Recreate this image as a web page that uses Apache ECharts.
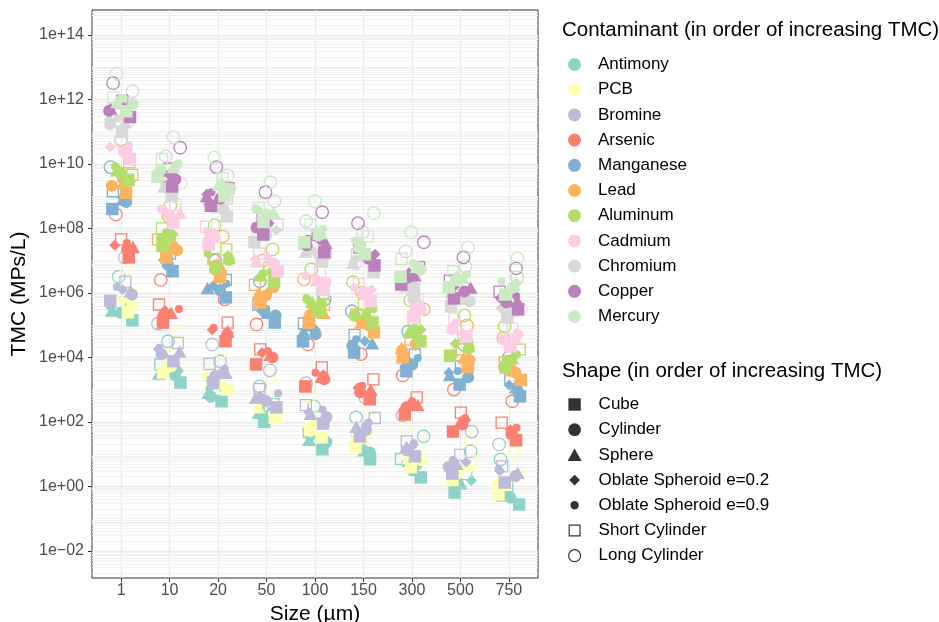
<!DOCTYPE html>
<html>
<head>
<meta charset="utf-8">
<script src="https://cdn.jsdelivr.net/npm/echarts@6/dist/echarts.min.js"></script>
<style>
html, body { margin: 0; padding: 0; background: #fff; }
#chart { width: 939px; height: 622px; }
</style>
</head>
<body>
<div id="chart"></div>
<script>
// particle sizes (µm), one column per size
const sizes = ['1', '10', '20', '50', '100', '150', '300', '500', '750'];
const contaminants = ['Antimony', 'PCB', 'Bromine', 'Arsenic', 'Manganese', 'Lead',
    'Aluminum', 'Cadmium', 'Chromium', 'Copper', 'Mercury'];
const shapes = ['Cube', 'Cylinder', 'Sphere', 'Oblate Spheroid e=0.2',
    'Oblate Spheroid e=0.9', 'Short Cylinder', 'Long Cylinder'];
const yTicks = [-2, 0, 2, 4, 6, 8, 10, 12, 14];

// log10(TMC), rows = sizes, columns = shapes (same order as above)
const antimony = [
    [5.15, 5.38, 5.45, 5.52, 5.58, 5.70, 6.50],
    [3.22, 3.45, 3.50, 3.58, 3.62, 3.78, 4.50],
    [2.64, 2.78, 2.90, 2.98, 3.05, 3.20, 3.88],
    [2.00, 2.20, 2.28, 2.35, 2.40, 2.55, 3.10],
    [1.15, 1.38, 1.45, 1.50, 1.58, 1.70, 2.48],
    [0.84, 1.05, 1.12, 1.20, 1.25, 1.40, 2.14],
    [0.28, 0.50, 0.59, 0.65, 0.70, 0.85, 1.55],
    [-0.19, 0.02, 0.10, 0.18, 0.22, 0.38, 1.09],
    [-0.56, -0.35, -0.28, -0.20, -0.15, 0.00, 0.84]
];
const pcb = [
    [5.40, 5.62, 5.70, 5.78, 5.82, 5.98, 6.80],
    [3.53, 3.72, 3.82, 3.88, 3.95, 4.10, 4.77],
    [3.00, 3.20, 3.30, 3.36, 3.42, 3.58, 4.19],
    [2.14, 2.35, 2.45, 2.50, 2.58, 2.72, 3.38],
    [1.52, 1.72, 1.82, 1.88, 1.94, 2.10, 2.79],
    [1.21, 1.42, 1.50, 1.58, 1.63, 1.78, 2.42],
    [0.59, 0.80, 0.88, 0.95, 1.00, 1.15, 1.83],
    [0.20, 0.40, 0.50, 0.56, 0.62, 0.78, 1.40],
    [-0.25, -0.05, 0.05, 0.10, 0.16, 0.32, 1.05]
];
const bromine = [
    [5.75, 5.95, 6.05, 6.10, 6.18, 6.35, 7.10],
    [3.88, 4.10, 4.18, 4.25, 4.30, 4.45, 5.05],
    [3.22, 3.42, 3.52, 3.58, 3.64, 3.80, 4.40],
    [2.45, 2.65, 2.75, 2.80, 2.88, 3.02, 3.60],
    [1.95, 2.15, 2.25, 2.30, 2.38, 2.52, 3.20],
    [1.55, 1.75, 1.85, 1.92, 1.98, 2.12, 2.76],
    [0.93, 1.12, 1.22, 1.28, 1.34, 1.40, 2.20],
    [0.40, 0.60, 0.70, 0.76, 0.82, 0.98, 1.70],
    [0.12, 0.32, 0.42, 0.48, 0.54, 0.62, 1.30]
];
const arsenic = [
    [7.10, 7.35, 7.42, 7.48, 7.55, 7.66, 8.43],
    [5.08, 5.30, 5.38, 5.45, 5.50, 5.64, 6.40],
    [4.50, 4.72, 4.80, 4.86, 4.92, 5.08, 5.80],
    [3.78, 4.00, 4.08, 4.14, 4.20, 4.25, 5.02],
    [3.10, 3.32, 3.40, 3.46, 3.52, 3.69, 4.40],
    [2.70, 2.92, 3.00, 3.06, 3.12, 3.32, 4.10],
    [2.23, 2.45, 2.52, 2.58, 2.64, 2.76, 3.44],
    [1.70, 1.92, 2.00, 2.06, 2.12, 2.29, 3.00],
    [1.43, 1.62, 1.70, 1.76, 1.82, 1.98, 2.64]
];
const manganese = [
    [8.60, 8.82, 8.90, 8.96, 9.02, 9.15, 9.90],
    [6.67, 6.88, 6.95, 7.02, 7.08, 7.22, 7.75],
    [5.86, 6.08, 6.15, 6.22, 6.28, 6.40, 7.00],
    [5.08, 5.30, 5.38, 5.44, 5.50, 5.64, 6.36],
    [4.50, 4.72, 4.80, 4.86, 4.92, 5.05, 5.80],
    [4.15, 4.36, 4.44, 4.50, 4.56, 4.70, 5.43],
    [3.57, 3.78, 3.86, 3.92, 3.98, 4.09, 4.80],
    [3.16, 3.38, 3.45, 3.52, 3.58, 3.72, 4.40],
    [2.79, 3.00, 3.08, 3.14, 3.20, 3.35, 4.00]
];
const lead = [
    [9.10, 9.32, 9.40, 9.46, 9.52, 9.66, 10.40],
    [7.10, 7.32, 7.40, 7.46, 7.52, 7.65, 8.37],
    [6.50, 6.72, 6.80, 6.86, 6.92, 7.05, 7.75],
    [5.70, 5.92, 6.00, 6.06, 6.12, 6.25, 7.00],
    [5.08, 5.30, 5.38, 5.44, 5.50, 5.63, 6.42],
    [4.78, 5.00, 5.08, 5.14, 5.20, 5.33, 6.00],
    [4.00, 4.22, 4.30, 4.36, 4.42, 4.55, 5.49],
    [3.70, 3.92, 4.00, 4.06, 4.12, 4.25, 4.99],
    [3.30, 3.52, 3.60, 3.66, 3.72, 3.85, 4.60]
];
const aluminum = [
    [9.50, 9.72, 9.80, 9.86, 9.92, 10.05, 10.75],
    [7.45, 7.68, 7.75, 7.82, 7.88, 8.00, 8.70],
    [6.80, 7.02, 7.10, 7.16, 7.22, 7.35, 8.10],
    [6.33, 6.48, 6.55, 6.60, 6.65, 6.78, 7.35],
    [5.43, 5.65, 5.72, 5.78, 5.84, 5.98, 6.73],
    [5.08, 5.30, 5.38, 5.44, 5.50, 5.63, 6.33],
    [4.50, 4.72, 4.80, 4.86, 4.92, 5.05, 5.77],
    [4.05, 4.28, 4.35, 4.42, 4.48, 4.60, 5.30],
    [3.69, 3.90, 3.98, 4.04, 4.10, 4.24, 4.96]
];
const cadmium = [
    [10.15, 10.38, 10.45, 10.52, 10.58, 10.70, 11.30],
    [8.18, 8.40, 8.48, 8.54, 8.60, 8.73, 9.40],
    [7.50, 7.72, 7.80, 7.86, 7.92, 8.05, 8.80],
    [6.67, 6.90, 6.98, 7.04, 7.10, 7.22, 7.90],
    [6.10, 6.32, 6.40, 6.46, 6.52, 6.65, 7.20],
    [5.74, 5.96, 6.04, 6.10, 6.16, 6.29, 6.90],
    [5.24, 5.45, 5.53, 5.60, 5.66, 5.79, 6.40],
    [4.65, 4.88, 4.95, 5.02, 5.08, 5.20, 5.90],
    [4.34, 4.55, 4.63, 4.70, 4.76, 4.89, 5.50]
];
const chromium = [
    [11.00, 11.22, 11.30, 11.36, 11.42, 11.55, 12.25],
    [9.00, 9.22, 9.30, 9.36, 9.42, 9.55, 10.23],
    [8.37, 8.58, 8.66, 8.72, 8.78, 8.92, 9.64],
    [7.57, 7.80, 8.03, 7.94, 8.00, 8.12, 8.84],
    [6.98, 7.20, 7.28, 7.34, 7.40, 7.53, 8.22],
    [6.64, 6.86, 6.94, 7.00, 7.06, 7.19, 7.88],
    [5.90, 6.12, 6.20, 6.26, 6.32, 6.45, 7.29],
    [5.58, 5.74, 5.82, 5.88, 5.94, 6.08, 6.82],
    [5.24, 5.33, 5.45, 5.52, 5.58, 5.72, 6.48]
];
const copper = [
    [11.45, 11.65, 11.72, 11.78, 11.84, 11.96, 12.50],
    [9.30, 9.52, 9.60, 9.66, 9.72, 9.85, 10.50],
    [8.70, 8.92, 9.00, 9.06, 9.12, 9.25, 9.90],
    [7.81, 8.03, 8.10, 8.16, 8.22, 8.35, 9.12],
    [7.26, 7.48, 7.55, 7.62, 7.68, 7.80, 8.50],
    [6.85, 7.06, 7.14, 7.20, 7.26, 7.40, 8.16],
    [6.26, 6.48, 6.55, 6.62, 6.68, 6.80, 7.57],
    [5.83, 6.04, 6.17, 6.18, 6.24, 6.38, 7.10],
    [5.49, 5.70, 5.74, 5.84, 5.90, 6.04, 6.76]
];
const mercury = [
    [11.63, 11.85, 11.92, 11.98, 12.04, 12.06, 12.80],
    [9.60, 9.82, 9.90, 9.96, 10.02, 10.15, 10.82],
    [9.00, 9.22, 9.36, 9.36, 9.42, 9.55, 10.20],
    [8.20, 8.42, 8.50, 8.56, 8.62, 8.65, 9.43],
    [7.57, 7.78, 7.86, 7.92, 7.98, 8.12, 8.84],
    [7.20, 7.42, 7.50, 7.56, 7.62, 7.75, 8.47],
    [6.50, 6.72, 6.80, 6.86, 6.92, 7.05, 7.88],
    [6.17, 6.38, 6.46, 6.52, 6.58, 6.67, 7.41],
    [5.95, 6.16, 6.24, 6.30, 6.36, 6.50, 7.07]
];
const tmc = [antimony, pcb, bromine, arsenic, manganese, lead,
    aluminum, cadmium, chromium, copper, mercury];

// Set3 palette
const colors = ['#8DD3C7', '#FFFFB3', '#BEBADA', '#FB8072', '#80B1D3', '#FDB462',
    '#B3DE69', '#FCCDE5', '#D9D9D9', '#BC80BD', '#CCEBC5'];

// marker look for each shape
const markers = [
    { symbol: 'rect', size: 12.5, open: false },
    { symbol: 'circle', size: 12, open: false },
    { symbol: 'triangle', size: [14, 12.5], open: false },
    { symbol: 'diamond', size: 11, open: false },
    { symbol: 'circle', size: 8, open: false },
    { symbol: 'rect', size: 11, open: true },
    { symbol: 'circle', size: 12.5, open: true }
];

// legend icons drawn in a fixed 14x14 box so the sizes differ like in the original
const box = 'path://M0,0M14,14';
const legendIcons = [
    box + 'M0.8,0.8L13.2,0.8L13.2,13.2L0.8,13.2Z',
    box + 'M13.4,7A6.4,6.4,0,1,1,0.6,7A6.4,6.4,0,1,1,13.4,7Z',
    box + 'M7,0.6L14,13L0,13Z',
    box + 'M7,1.6L12.4,7L7,12.4L1.6,7Z',
    box + 'M11.2,7A4.2,4.2,0,1,1,2.8,7A4.2,4.2,0,1,1,11.2,7Z',
    box + 'M1.6,1.6L12.4,1.6L12.4,12.4L1.6,12.4Z',
    box + 'M13,7A6,6,0,1,1,1,7A6,6,0,1,1,13,7Z'
];

// horizontal jitter, fixed per point
const jitter = (ci, si, k) => {
    const h = Math.sin(ci * 131.7 + si * 17.3 + k * 3.1 + 0.5) * 43758.5453;
    return (h - Math.floor(h) - 0.5) * 0.5;
};

const expLabel = (v) => {
    const e = Math.round(v);
    return '1e' + (e < 0 ? '\u2212' : '+') + String(Math.abs(e)).padStart(2, '0');
};

// light minor lines like ggplot's log minor breaks
const minorLines = [];
for (let n = -3; n <= 14; n++) {
    for (let m = 1; m <= 9; m++) {
        if (m === 1 && n % 2 === 0) continue;
        const v = n + Math.log10(m);
        if (v > -2.84 && v < 14.77) minorLines.push({ yAxis: v });
    }
}

const font = 'Liberation Sans';

const pointSeries = contaminants.map((name, ci) => ({
    name,
    type: 'scatter',
    z: 3,
    emphasis: { disabled: true },
    itemStyle: { color: colors[ci], opacity: 1 },
    data: tmc[ci].flatMap((row, k) => row.map((v, si) => {
        const mk = markers[si];
        return {
            value: [k + jitter(ci, si, k), v],
            symbol: mk.symbol,
            symbolSize: mk.size,
            itemStyle: mk.open
                ? { color: 'rgba(0,0,0,0)', borderColor: colors[ci], borderWidth: 1.3, opacity: 1 }
                : { color: colors[ci], borderWidth: 0, opacity: 1 }
        };
    }))
}));

const shapeSeries = shapes.map((name) => ({
    name,
    type: 'scatter',
    data: [],
    itemStyle: { color: '#000' }
}));

const gridSeries = {
    name: 'minor',
    type: 'scatter',
    z: 1,
    silent: true,
    data: [],
    markLine: {
        z: 1,
        silent: true,
        symbol: ['none', 'none'],
        label: { show: false },
        emphasis: { disabled: true },
        lineStyle: { color: '#f1f1f1', width: 1, type: 'solid' },
        data: minorLines
    }
};

const chart = echarts.init(document.getElementById('chart'), null, { renderer: 'canvas' });
chart.setOption({
    animation: false,
    backgroundColor: '#fff',
    textStyle: { fontFamily: font },
    title: [
        {
            text: 'Contaminant (in order of increasing TMC)',
            left: 562, top: 20, padding: 0,
            textStyle: { fontSize: 20.5, fontWeight: 'normal', color: '#000', fontFamily: font }
        },
        {
            text: 'Shape (in order of increasing TMC)',
            left: 562, top: 361, padding: 0,
            textStyle: { fontSize: 20.5, fontWeight: 'normal', color: '#000', fontFamily: font }
        }
    ],
    legend: [
        {
            orient: 'vertical',
            left: 568, top: 56, padding: 0,
            itemWidth: 13, itemHeight: 13, itemGap: 8.2,
            selectedMode: false,
            icon: 'circle',
            textStyle: { fontSize: 17, color: '#000', fontFamily: font, padding: [0, 0, 0, 12] },
            data: contaminants
        },
        {
            orient: 'vertical',
            left: 567, top: 396, padding: 0,
            itemWidth: 14, itemHeight: 14, itemGap: 8.2,
            selectedMode: false,
            textStyle: { fontSize: 17, color: '#000', fontFamily: font, padding: [0, 0, 0, 12] },
            data: shapes.map((name, i) => ({
                name,
                icon: legendIcons[i],
                itemStyle: markers[i].open
                    ? { color: 'rgba(0,0,0,0)', borderColor: '#000', borderWidth: 1.2 }
                    : { color: '#000', borderWidth: 0 }
            }))
        }
    ],
    grid: {
        left: 92, right: 401, top: 10, bottom: 44,
        show: true, borderColor: '#333', borderWidth: 1,
        backgroundColor: 'rgba(0,0,0,0)',
        containLabel: false, outerBoundsMode: 'none'
    },
    xAxis: {
        type: 'value',
        min: -0.6, max: 8.6,
        splitNumber: 9, minInterval: 1, maxInterval: 1,
        name: 'Size (µm)', nameLocation: 'middle', nameGap: 21,
        nameTextStyle: { fontSize: 21, color: '#000', fontFamily: font },
        axisLine: { show: false, onZero: false },
        axisTick: { show: true, length: 4, lineStyle: { color: '#333' }, customValues: sizes.map((s, i) => i) },
        axisLabel: {
            customValues: sizes.map((s, i) => i),
            fontSize: 16, color: '#4d4d4d', margin: 5, fontFamily: font,
            formatter: (v) => {
                const i = Math.round(v);
                return Math.abs(v - i) < 1e-6 && i >= 0 && i < sizes.length ? sizes[i] : '';
            }
        },
        splitLine: { show: true, lineStyle: { color: '#ebebeb', width: 1.3 } }
    },
    yAxis: {
        type: 'value',
        min: -2.84, max: 14.77,
        splitNumber: 9, minInterval: 2, maxInterval: 2,
        name: 'TMC (MPs/L)', nameLocation: 'middle', nameGap: 62, nameRotate: 90,
        nameTextStyle: { fontSize: 21, color: '#000', fontFamily: font },
        axisLine: { show: false, onZero: false },
        axisTick: { show: true, length: 4, lineStyle: { color: '#333' }, customValues: yTicks },
        axisLabel: {
            customValues: yTicks,
            fontSize: 16, color: '#4d4d4d', margin: 8, fontFamily: font,
            formatter: expLabel
        },
        splitLine: { show: true, lineStyle: { color: '#ebebeb', width: 1.3 } }
    },
    series: [gridSeries, ...pointSeries, ...shapeSeries]
});
</script>
</body>
</html>
